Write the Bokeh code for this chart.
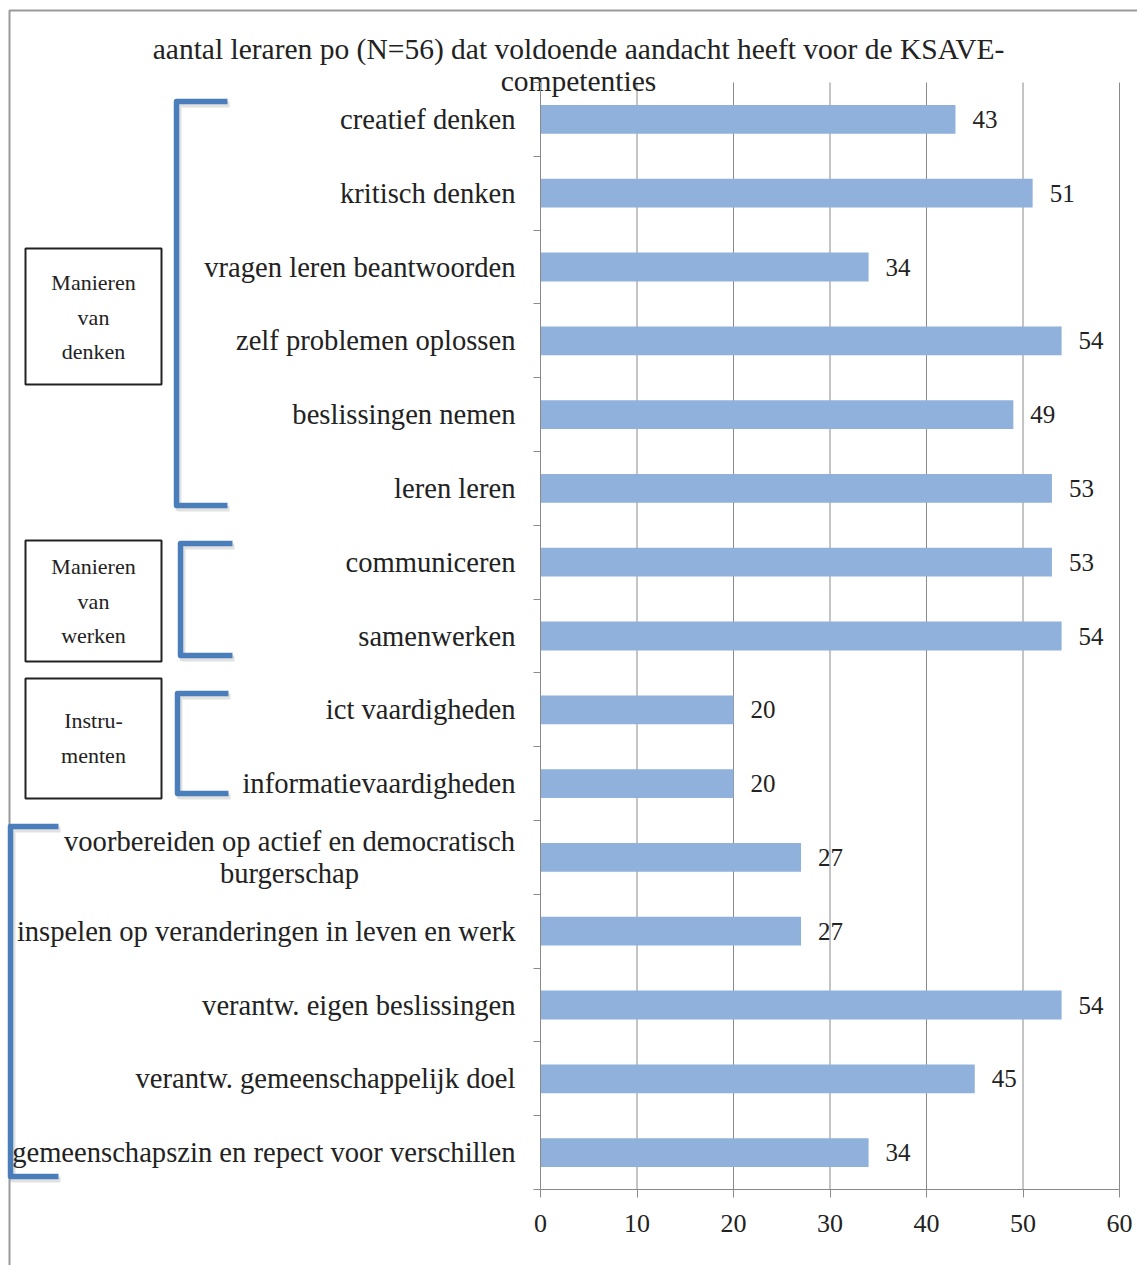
from bokeh.plotting import figure
from bokeh.models import Range1d, FixedTicker
from bokeh.core.properties import value
from bokeh.embed import file_html
from bokeh.resources import INLINE

# ---------------- data ----------------
title_lines = ["aantal leraren po (N=56) dat voldoende aandacht heeft voor de KSAVE-",
               "competenties"]
categories = [
    "creatief denken",
    "kritisch denken",
    "vragen leren beantwoorden",
    "zelf problemen oplossen",
    "beslissingen nemen",
    "leren leren",
    "communiceren",
    "samenwerken",
    "ict vaardigheden",
    "informatievaardigheden",
    "voorbereiden op actief en democratisch\nburgerschap",
    "inspelen op veranderingen in leven en werk",
    "verantw. eigen beslissingen",
    "verantw. gemeenschappelijk doel",
    "gemeenschapszin en repect voor verschillen",
]
values = [43, 51, 34, 54, 49, 53, 53, 54, 20, 20, 27, 27, 54, 45, 34]
x_ticks = [0, 10, 20, 30, 40, 50, 60]
group_labels = [["Manieren", "van", "denken"],
                ["Manieren", "van", "werken"],
                ["Instru-", "menten"]]

# ---------------- layout (canvas pixels) ----------------
W, H = 1137, 1265
FL, FR, FT, FB = 540, 1119, 82, 1189     # plot area edges
FONT = "Liberation Serif"
TXT = "#222222"
GRAY = "#8a8a8a"
BAR = "#8FB1DC"
BLUE = "#4A7EBB"

title_pos = [(578, 48), (578, 80)]
centered_label_x = 289                   # centre of the two-line category label
group_boxes = [(25, 161, 248, 384, [282, 317, 351]),
               (25, 161, 540, 661, [566, 601, 635]),
               (25, 161, 678, 798, [720, 755])]
brackets = [(176, 101, 505, 227),
            (180, 543, 655, 232),
            (177, 693, 793, 228),
            (10, 826, 1176, 58)]

n = len(categories)
centers = [n - i - 0.5 for i in range(n)]
xmax = x_ticks[-1]
xs = (FR - FL) / xmax          # px per x unit
ys = (FB - FT) / n             # px per category

p = figure(width=W, height=H, output_backend="svg", toolbar_location=None,
           x_range=Range1d(-FL / xs, (W - FL) / xs),
           y_range=Range1d(-(H - FB) / ys, n + FT / ys),
           min_border=0, min_border_left=0, min_border_right=0,
           min_border_top=0, min_border_bottom=0)
p.extra_x_ranges = {"px": Range1d(0, W)}
p.extra_y_ranges = {"py": Range1d(H, 0)}
p.outline_line_color = None
p.background_fill_color = "white"
p.border_fill_color = "white"
p.xgrid.visible = False
p.ygrid.visible = False

# x axis (fixed at y=0)
xa = p.xaxis[0]
xa.fixed_location = 0
xa.bounds = (0, xmax)
xa.ticker = FixedTicker(ticks=x_ticks)
xa.major_tick_out = 8
xa.major_tick_in = 0
xa.minor_tick_out = 0
xa.minor_tick_in = 0
xa.axis_line_color = GRAY
xa.major_tick_line_color = GRAY
xa.major_label_text_font = FONT
xa.major_label_text_font_size = "26px"
xa.major_label_text_color = TXT
xa.major_label_standoff = 17

# y axis (fixed at x=0); the two-line label is drawn centred separately
multi = [i for i, c in enumerate(categories) if "\n" in c]
ya = p.yaxis[0]
ya.fixed_location = 0
ya.bounds = (0, n)
ya.ticker = FixedTicker(ticks=centers, minor_ticks=list(range(n + 1)))
ya.major_label_overrides = {c: ("" if i in multi else cat)
                            for i, (c, cat) in enumerate(zip(centers, categories))}
ya.major_tick_out = 0
ya.major_tick_in = 0
ya.minor_tick_out = 7
ya.minor_tick_in = 0
ya.minor_tick_line_color = GRAY
ya.axis_line_color = GRAY
ya.major_label_text_font = FONT
ya.major_label_text_font_size = "28.6px"
ya.major_label_text_color = TXT
ya.major_label_standoff = 18

p.text(x=[centered_label_x] * len(multi), y=[centers[i] for i in multi],
       text=[categories[i] for i in multi], x_range_name="px",
       text_align="center", text_baseline="middle", text_line_height=1.05,
       text_font=value(FONT), text_font_size="28.6px", text_color=TXT)

# outer border of the chart area
p.quad(left=[9], right=[W + 20], top=[10], bottom=[H + 20],
       x_range_name="px", y_range_name="py",
       fill_color=None, line_color="#9a9a9a", line_width=2)

# vertical grid lines
p.segment(x0=x_ticks[1:], x1=x_ticks[1:], y0=0, y1=n,
          line_color=GRAY, line_width=1)

# bars + values
p.hbar(y=centers, left=0, right=values, height=0.39,
       fill_color=BAR, line_color=None)
p.text(x=values, y=centers, text=[str(v) for v in values], x_offset=17,
       text_baseline="middle", text_align="left",
       text_font=value(FONT), text_font_size="25px", text_color=TXT)

# title
p.text(x=[q[0] for q in title_pos], y=[q[1] for q in title_pos], text=title_lines,
       x_range_name="px", y_range_name="py",
       text_align="center", text_baseline="middle",
       text_font=value(FONT), text_font_size="29.5px", text_color=TXT)

# group boxes with their labels
for (l, r, t, b, yy), lines in zip(group_boxes, group_labels):
    p.quad(left=[l], right=[r], top=[t], bottom=[b],
           x_range_name="px", y_range_name="py",
           fill_color=None, line_color=TXT, line_width=2)
    p.text(x=[(l + r) / 2] * len(lines), y=yy[:len(lines)], text=lines,
           x_range_name="px", y_range_name="py",
           text_align="center", text_baseline="middle",
           text_font=value(FONT), text_font_size="22px", text_color=TXT)

# brackets (with a soft shadow)
bx = [[xe, x, x, xe] for x, y0, y1, xe in brackets]
by = [[y0, y0, y1, y1] for x, y0, y1, xe in brackets]
p.multi_line(xs=[[v + 2 for v in a] for a in bx], ys=[[v + 3 for v in a] for a in by],
             x_range_name="px", y_range_name="py",
             line_color="#9a9a9a", line_alpha=0.3, line_width=6, line_join="round")
p.multi_line(xs=bx, ys=by, x_range_name="px", y_range_name="py",
             line_color=BLUE, line_width=5.5, line_join="round", line_cap="butt")

open("out.html", "w").write(file_html(p, INLINE))
